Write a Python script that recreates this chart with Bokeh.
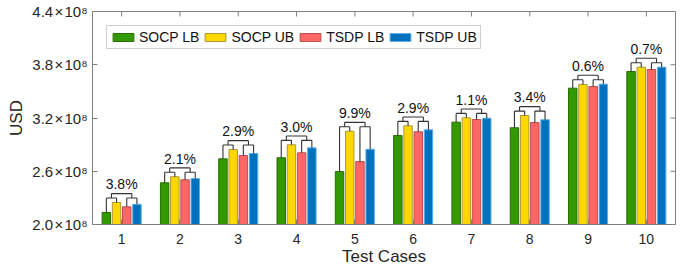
import math
from bokeh.plotting import figure
from bokeh.models import ColumnDataSource, FixedTicker, Range1d, Legend, LegendItem
from bokeh.transform import dodge
from bokeh.embed import file_html
from bokeh.resources import INLINE
from bokeh.core.properties import value

# ---- data (values in units of 10^8 USD) ----
cases = [1, 2, 3, 4, 5, 6, 7, 8, 9, 10]
case_labels = ["1", "2", "3", "4", "5", "6", "7", "8", "9", "10"]
socp_lb = [2.135, 2.470, 2.740, 2.752, 2.597, 3.003, 3.153, 3.090, 3.536, 3.724]
socp_ub = [2.248, 2.538, 2.845, 2.898, 3.051, 3.112, 3.202, 3.228, 3.578, 3.773]
tsdp_lb = [2.199, 2.504, 2.778, 2.808, 2.710, 3.045, 3.183, 3.149, 3.555, 3.747]
tsdp_ub = [2.227, 2.518, 2.800, 2.864, 2.848, 3.067, 3.198, 3.180, 3.581, 3.773]
gap_labels = ["3.8%", "2.1%", "2.9%", "3.0%", "9.9%", "2.9%", "1.1%", "3.4%", "0.6%", "0.7%"]
y_ticks = [2.0, 2.6, 3.2, 3.8, 4.4]
y_tick_labels = ["2.0\u200a\u00d7\u200a10\u2078", "2.6\u200a\u00d7\u200a10\u2078",
                 "3.2\u200a\u00d7\u200a10\u2078", "3.8\u200a\u00d7\u200a10\u2078",
                 "4.4\u200a\u00d7\u200a10\u2078"]
series_names = ["SOCP LB", "SOCP UB", "TSDP LB", "TSDP UB"]

# ---- style ----
FONT = "Liberation Sans"
TXT = "#262626"
AX = "#808080"
fills = ["#339900", "#ffd700", "#ff6666", "#0072bd"]
edges = ["#2a6e05", "#a89a3c", "#c24e4e", "#5aaee8"]
offsets = [-0.2625, -0.0875, 0.0875, 0.2625]
bar_w = 0.145

src = ColumnDataSource(dict(x=cases, socp_lb=socp_lb, socp_ub=socp_ub,
                            tsdp_lb=tsdp_lb, tsdp_ub=tsdp_ub))

x_lo, x_hi = 0.5, 10.5
p = figure(frame_width=583, frame_height=213, output_backend="svg", toolbar_location=None,
           x_range=Range1d(x_lo, x_hi), y_range=Range1d(y_ticks[0], y_ticks[-1]),
           min_border_left=92, min_border_right=4, min_border_top=11,
           min_border_bottom=46)
p.outline_line_color = AX
p.outline_line_width = 1
p.grid.visible = False
p.background_fill_color = "white"

cols = ["socp_lb", "socp_ub", "tsdp_lb", "tsdp_ub"]
renderers = []
for col, off, fc, ec in zip(cols, offsets, fills, edges):
    r = p.vbar(x=dodge("x", off, range=p.x_range), top=col, bottom=0, width=bar_w,
               source=src, fill_color=fc, line_color=ec, line_width=1)
    renderers.append(r)

# ---- brackets ----
x0, y0, x1, y1 = [], [], [], []
tx, ty = [], []
step = 0.05
for i, c in enumerate(cases):
    vals = [socp_lb[i], socp_ub[i], tsdp_lb[i], tsdp_ub[i]]
    h1 = max(vals) + step
    h2 = h1 + step
    xs = [c + o for o in offsets]
    for xv, v in zip(xs, vals):
        x0.append(xv); y0.append(v); x1.append(xv); y1.append(h1)
    x0 += [xs[0], xs[2]]; y0 += [h1, h1]; x1 += [xs[1], xs[3]]; y1 += [h1, h1]
    ml = (xs[0] + xs[1]) / 2
    mr = (xs[2] + xs[3]) / 2
    x0 += [ml, mr, ml]; y0 += [h1, h1, h2]; x1 += [ml, mr, mr]; y1 += [h2, h2, h2]
    tx.append(c); ty.append(h2 + 0.105)

p.segment(x0=x0, y0=y0, x1=x1, y1=y1, line_color="#333333", line_width=1.1)
p.text(x=tx, y=ty, text=gap_labels, text_align="center", text_baseline="middle",
       text_font=value(FONT), text_font_size="14px", text_color="#111111")

# mirrored inward ticks on top and right edges (half of each dash is clipped by the frame)
p.scatter(x=cases, y=[y_ticks[-1]] * len(cases), marker="dash", size=10,
          angle=math.pi / 2, line_color=AX, line_width=1)
p.scatter(x=[x_hi] * len(y_ticks), y=y_ticks, marker="dash", size=10,
          line_color=AX, line_width=1)

# ---- axes ----
def style_axis(ax):
    ax.axis_line_color = AX
    ax.major_tick_line_color = AX
    ax.major_tick_in = 5
    ax.major_tick_out = 0
    ax.minor_tick_line_color = None
    ax.major_label_text_font = FONT
    ax.major_label_text_color = TXT
    ax.axis_label_text_font = FONT
    ax.axis_label_text_color = TXT
    ax.axis_label_text_font_style = "normal"

xa = p.xaxis[0]
style_axis(xa)
xa.ticker = FixedTicker(ticks=cases)
xa.major_label_overrides = dict(zip(cases, case_labels))
xa.major_label_text_font_size = "14px"
xa.major_label_standoff = 9
xa.axis_label = "Test Cases"
xa.axis_label_text_font_size = "17px"
xa.axis_label_standoff = 0

ya = p.yaxis[0]
style_axis(ya)
ya.ticker = FixedTicker(ticks=y_ticks)
ya.major_label_overrides = dict(zip(y_ticks, y_tick_labels))
ya.major_label_text_font_size = "15px"
ya.major_label_standoff = 5
ya.axis_label = "USD"
ya.axis_label_text_font_size = "17px"
ya.axis_label_standoff = 3

# ---- legend ----
legend = Legend(items=[LegendItem(label=n, renderers=[r]) for n, r in zip(series_names, renderers)],
                orientation="horizontal", location="top_left", margin=14,
                padding=3, spacing=3, label_standoff=3,
                glyph_width=26, glyph_height=10, label_height=14,
                label_text_font=FONT, label_text_font_size="14px",
                label_text_color="#111111",
                border_line_color="#a0a0a0", border_line_width=1,
                background_fill_color="white", background_fill_alpha=1)
p.add_layout(legend)

open("out.html", "w").write(file_html(p, INLINE))
